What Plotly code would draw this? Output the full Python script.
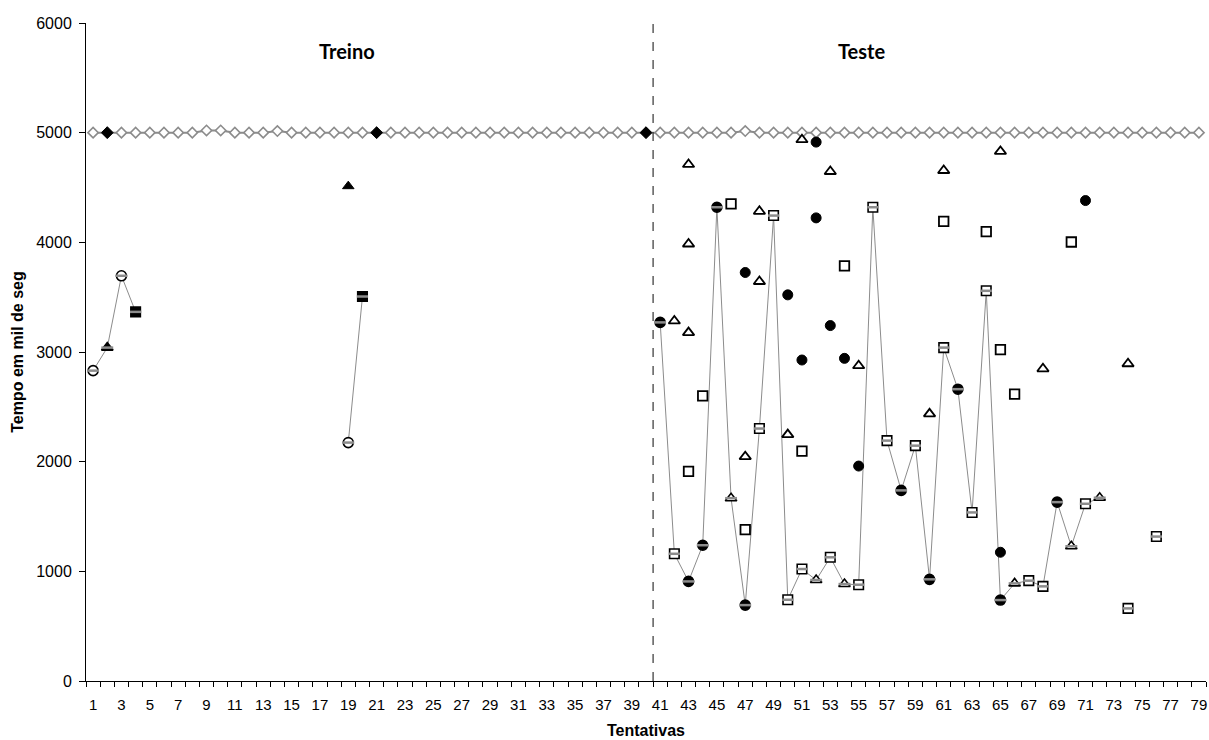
import plotly.graph_objects as go

# ---------------- data ----------------
trials = list(range(1, 80))

# reference line of diamonds (gray, hollow) at ~5000 for every trial
diamond_values = [5000] * 79
for t, v in {9: 5020, 10: 5020, 14: 5015, 47: 5015}.items():
    diamond_values[t - 1] = v

# black diamonds
black_diamond_trials = [2, 21, 40]
black_diamond_values = [5000, 5000, 5000]

# connected series (trial -> value, marker shape)
seq_points = {
    1: (2830, "c"), 2: (3040, "t"), 3: (3695, "c"), 4: (3366, "s"),
    19: (2174, "c"), 20: (3506, "s"),
    41: (3270, "c"), 42: (1160, "s"), 43: (908, "c"), 44: (1238, "c"),
    45: (4320, "c"), 46: (1667, "t"), 47: (692, "c"), 48: (2302, "s"),
    49: (4244, "s"), 50: (741, "s"), 51: (1021, "s"), 52: (921, "t"),
    53: (1128, "s"), 54: (884, "t"), 55: (878, "s"), 56: (4320, "s"),
    57: (2192, "s"), 58: (1738, "c"), 59: (2146, "s"), 60: (927, "c"),
    61: (3040, "s"), 62: (2661, "c"), 63: (1537, "s"), 64: (3558, "s"),
    65: (738, "c"), 66: (890, "t"), 67: (915, "s"), 68: (863, "s"),
    69: (1631, "c"), 70: (1229, "t"), 71: (1616, "s"), 72: (1671, "t"),
    74: (662, "s"), 76: (1317, "s"),
}

# hollow triangles
tri_trials = [42, 43, 43, 43, 47, 48, 48, 50, 51, 53, 55, 60, 61, 65, 68, 74]
tri_values = [3283, 4710, 3985, 3177, 2046, 4283, 3643, 2247, 4936, 4646, 2875, 2436, 4655, 4829, 2847, 2893]

# hollow squares
sq_trials = [43, 44, 46, 47, 51, 54, 61, 64, 65, 66, 70]
sq_values = [1912, 2600, 4350, 1381, 2097, 3785, 4192, 4097, 3021, 2616, 4003]

# filled black circles
circ_trials = [47, 50, 51, 52, 52, 53, 54, 55, 65, 71]
circ_values = [3725, 3521, 2927, 4914, 4223, 3241, 2942, 1960, 1174, 4381]

# filled black triangle
btri_trials = [19]
btri_values = [4512]

x_tick_labels = [str(t) for t in range(1, 80, 2)]
y_ticks = [0, 1000, 2000, 3000, 4000, 5000, 6000]

# ---------------- figure ----------------
fig = go.Figure()

fig.add_trace(go.Scatter(
    x=trials, y=diamond_values, mode="lines+markers",
    line=dict(color="#8c8c8c", width=2),
    marker=dict(symbol="diamond", size=8, color="white", opacity=1,
                line=dict(color="#8c8c8c", width=1.6)),
    showlegend=False, hoverinfo="skip"))

fig.add_trace(go.Scatter(
    x=black_diamond_trials, y=black_diamond_values, mode="markers",
    marker=dict(symbol="diamond", size=9, color="black", opacity=1,
                line=dict(color="black", width=1)),
    showlegend=False))

# connected series
seq_y = [seq_points[t][0] if t in seq_points else None for t in trials]
fig.add_trace(go.Scatter(
    x=trials, y=seq_y, mode="lines", connectgaps=False,
    line=dict(color="#8c8c8c", width=1), showlegend=False, hoverinfo="skip"))

sym_map = {"c": "circle", "t": "triangle-up", "s": "square"}
size_map = {"c": 10, "t": 10, "s": 9.5}
seq_x = [t for t in trials if t in seq_points]
seq_v = [seq_points[t][0] for t in seq_x]
seq_s = [seq_points[t][1] for t in seq_x]
fills = []
for t, s in zip(seq_x, seq_s):
    if t < 41:
        fills.append("white" if s == "c" else "black")
    else:
        fills.append("black" if s == "c" else "white")
fig.add_trace(go.Scatter(
    x=seq_x, y=seq_v, mode="markers",
    marker=dict(symbol=[sym_map[s] for s in seq_s],
                size=[size_map[s] for s in seq_s], opacity=1,
                color=fills, line=dict(color="black", width=1.6)),
    showlegend=False))
# gray stripe across the series markers
fig.add_trace(go.Scatter(
    x=seq_x, y=seq_v, mode="markers",
    marker=dict(symbol="line-ew", size=[size_map[s] - 1.5 for s in seq_s],
                opacity=1, line=dict(color="#8c8c8c", width=2.5)),
    showlegend=False, hoverinfo="skip"))

fig.add_trace(go.Scatter(
    x=tri_trials, y=tri_values, mode="markers",
    marker=dict(symbol="triangle-up", size=10, color="white", opacity=1,
                line=dict(color="black", width=1.8)),
    showlegend=False))

fig.add_trace(go.Scatter(
    x=sq_trials, y=sq_values, mode="markers",
    marker=dict(symbol="square", size=9.5, color="white", opacity=1,
                line=dict(color="black", width=1.8)),
    showlegend=False))

fig.add_trace(go.Scatter(
    x=circ_trials, y=circ_values, mode="markers",
    marker=dict(symbol="circle", size=10, color="black", opacity=1,
                line=dict(color="black", width=1)),
    showlegend=False))

fig.add_trace(go.Scatter(
    x=btri_trials, y=btri_values, mode="markers",
    marker=dict(symbol="triangle-up", size=10, color="black", opacity=1,
                line=dict(color="black", width=1)),
    showlegend=False))

# dashed separator between training and test
fig.add_shape(type="line", xref="x", yref="y", x0=40.5, x1=40.5, y0=0, y1=6000,
              line=dict(color="#333333", width=1.2, dash="dash"))

fig.add_annotation(x=18.9, y=0.979, xref="x", yref="paper", text="<b>Treino</b>",
                   showarrow=False, font=dict(family="Lato", size=20, color="black"))
fig.add_annotation(x=55.2, y=0.979, xref="x", yref="paper", text="<b>Teste</b>",
                   showarrow=False, font=dict(family="Lato", size=20, color="black"))

fig.update_layout(
    width=1209, height=740,
    margin=dict(l=86, r=3, t=23, b=59),
    plot_bgcolor="white", paper_bgcolor="white",
    font=dict(family="Liberation Sans", size=15, color="black"),
    xaxis=dict(range=[0.5, 79.5], tickmode="array",
               tickvals=list(range(1, 80, 2)), ticktext=x_tick_labels,
               ticks="outside", ticklen=10, tickcolor="rgba(0,0,0,0)",
               showgrid=False, zeroline=False,
               showline=True, linecolor="black", linewidth=1,
               minor=dict(ticks="outside", ticklen=5, tick0=0.5, dtick=1,
                          tickcolor="black", showgrid=False),
               title=dict(text="<b>Tentativas</b>", standoff=12,
                          font=dict(family="Liberation Sans", size=16))),
    yaxis=dict(range=[0, 6000], tickmode="array", tickvals=y_ticks,
               ticks="outside", ticklen=6, tickcolor="black",
               ticklabelstandoff=4, tickfont=dict(size=16),
               showgrid=False, zeroline=False,
               showline=True, linecolor="black", linewidth=1,
               title=dict(text="<b>Tempo em mil de seg</b>", standoff=8,
                          font=dict(family="Liberation Sans", size=16))),
)

fig.write_html("out.html")
